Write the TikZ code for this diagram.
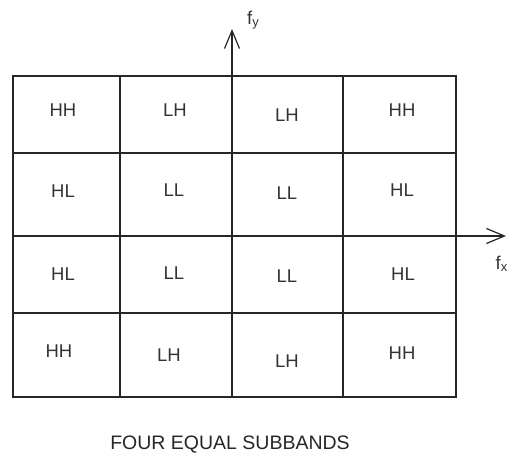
\documentclass[tikz,border=0pt]{standalone}
\usepackage{fontspec}
\setmainfont{Liberation Sans}
\usetikzlibrary{arrows.meta}
\begin{document}
\begin{tikzpicture}[x=1pt,y=-1pt,
  gridline/.style={line width=1.4pt,draw=black!85},
  axis/.style={line width=1.4pt,draw=black!85,-{Straight Barb[length=18pt,width=15pt,line width=1.2pt]}},
  lbl/.style={font=\fontsize{18.5}{20}\selectfont,text=black!80,inner sep=0pt},
  captext/.style={font=\fontsize{19.5}{22}\selectfont,text=black!85,inner sep=0pt}]
\useasboundingbox (0,0) rectangle (509,457);
% grid
\coordinate (tl) at (13,76);
\coordinate (br) at (456,397);
\draw[gridline] (tl) rectangle (br);
\draw[gridline] (13,153) -- (456,153);
\draw[gridline] (13,313) -- (456,313);
\draw[gridline] (120,76) -- (120,397);
\draw[gridline] (343,76) -- (343,397);
\draw[gridline] (232,76) -- (232,397);
\draw[gridline] (13,236) -- (456,236);
% axes
\coordinate (ybot) at (232,76);
\coordinate (ytop) at (232,29);
\coordinate (xl) at (456,236);
\coordinate (xr) at (506,236);
\draw[axis] (ybot) -- (ytop);
\draw[axis] (xl) -- (xr);
\node[lbl,anchor=west] (fy) at (247,20) {f$_\mathrm{y}$};
\node[lbl,anchor=east] (fx) at (508,264) {f$_\mathrm{x}$};
% row 1
\node[lbl] (a11) at (63,110) {HH};
\node[lbl] (a12) at (175,110) {LH};
\node[lbl] (a13) at (287,115) {LH};
\node[lbl] (a14) at (402,110) {HH};
% row 2
\node[lbl] (a21) at (63,191) {HL};
\node[lbl] (a22) at (174,190) {LL};
\node[lbl] (a23) at (287,193) {LL};
\node[lbl] (a24) at (402,190) {HL};
% row 3
\node[lbl] (a31) at (63,274) {HL};
\node[lbl] (a32) at (174,273) {LL};
\node[lbl] (a33) at (287,276) {LL};
\node[lbl] (a34) at (403,274) {HL};
% row 4
\node[lbl] (a41) at (59,351) {HH};
\node[lbl] (a42) at (169,355) {LH};
\node[lbl] (a43) at (287,361) {LH};
\node[lbl] (a44) at (402,353) {HH};
% caption
\node[captext] (title) at (230,445) {FOUR EQUAL SUBBANDS};
\end{tikzpicture}
\end{document}
